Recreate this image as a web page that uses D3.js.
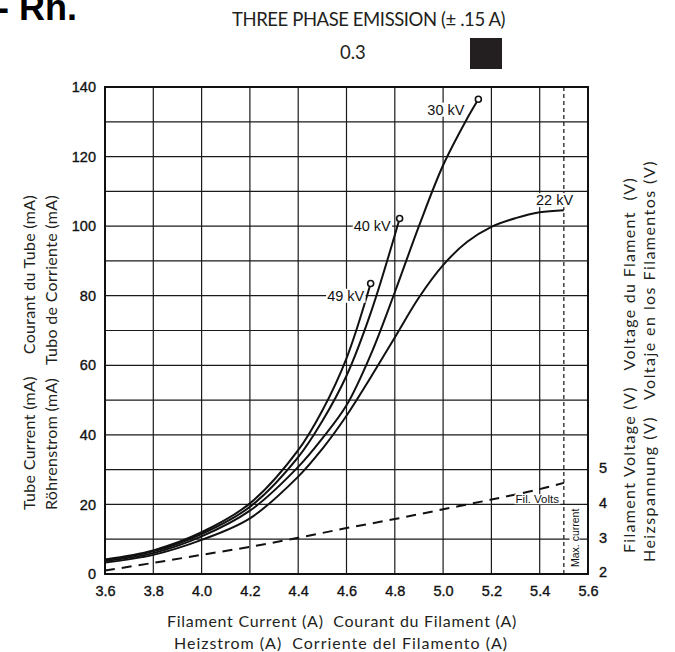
<!DOCTYPE html>
<html>
<head>
<meta charset="utf-8">
<script src="https://cdn.jsdelivr.net/npm/d3@7"></script>
<style>
  body { margin: 0; background: #fff; }
  svg { display: block; }
</style>
</head>
<body>
<div id="chart"></div>
<script>
// filament current (A) vs tube current (mA)
const kv49 = [[3.6,4.2],[3.8,6.8],[4.0,12.0],[4.2,20.3],[4.4,35.6],[4.5,47],[4.6,62],[4.7,83.5]];
const kv40 = [[3.6,4.0],[3.8,6.5],[4.0,11.5],[4.2,19.3],[4.4,33.6],[4.5,44],[4.6,57],[4.7,75],[4.82,102.2]];
const kv30 = [[3.6,3.7],[3.8,6.0],[4.0,10.8],[4.2,18.2],[4.4,30.8],[4.5,39],[4.6,48.5],[4.7,63],[4.8,81],[4.9,100],[5.0,117.5],[5.1,131],[5.146,136.5]];
const kv22 = [[3.6,3.3],[3.8,5.5],[4.0,9.8],[4.2,16.0],[4.4,28.0],[4.5,36],[4.6,45.5],[4.7,56.5],[4.8,68],[4.9,79.5],[5.0,88.8],[5.1,95.5],[5.2,99.8],[5.3,102.3],[5.4,104],[5.5,104.6]];
// filament voltage (V), right axis
const filVolts = [[3.6,2.1],[3.8,2.32],[4.0,2.55],[4.2,2.78],[4.4,3.04],[4.6,3.32],[4.8,3.58],[5.0,3.86],[5.2,4.14],[5.4,4.44],[5.5,4.62]];
const maxCurrent = 5.5;

const xTicks = [3.6,3.8,4.0,4.2,4.4,4.6,4.8,5.0,5.2,5.4,5.6];
const yTicks = [0,20,40,60,80,100,120,140];
const vTicks = [2,3,4,5];

const curves = [
  {name:"49 kV", data:kv49, marker:true,  lx:4.69, ly:80},
  {name:"40 kV", data:kv40, marker:true,  lx:4.80, ly:100},
  {name:"30 kV", data:kv30, marker:true,  lx:5.105, ly:133.5},
  {name:"22 kV", data:kv22, marker:false, lx:5.555, ly:107.5}
];

const W = 675, H = 652;
const svg = d3.select("#chart").append("svg").attr("width", W).attr("height", H);

const x = d3.scaleLinear().domain([3.6, 5.6]).range([105, 588]);
const y = d3.scaleLinear().domain([0, 140]).range([574, 87]);
const yV = d3.scaleLinear().domain([2, 16]).range([574, 87]);

const tickFont = "'Liberation Sans', Arial, sans-serif";
const labelFont = "Lato, 'Open Sans', sans-serif";

// stretch a text to a measured length with letter spacing
function fit(sel, len) {
  const n = sel.text().length;
  const L = sel.node().getComputedTextLength();
  sel.style("letter-spacing", ((len - L) / n) + "px");
  return sel;
}

// header
svg.append("text").attr("x", -3).attr("y", 20)
  .style("font-family", tickFont).style("font-weight", "bold").style("font-size", "36px")
  .text("- Rh.");
fit(svg.append("text").attr("x", 232).attr("y", 26)
  .style("font-family", labelFont).style("font-size", "18.5px").attr("fill", "#231f20")
  .text("THREE PHASE EMISSION (± .15 A)"), 273);
svg.append("text").attr("x", 340).attr("y", 59)
  .style("font-family", labelFont).style("font-size", "18.5px").attr("fill", "#231f20")
  .text("0.3");
svg.append("rect").attr("x", 470).attr("y", 38).attr("width", 32).attr("height", 31).attr("fill", "#231f20");

// grid
const grid = svg.append("g").attr("stroke", "#1a1a1a").attr("stroke-width", 1.2);
grid.selectAll("line.v").data(d3.range(3.6, 5.61, 0.2)).join("line")
  .attr("x1", d => x(d)).attr("x2", d => x(d)).attr("y1", y(0)).attr("y2", y(140));
grid.selectAll("line.h").data(d3.range(0, 141, 10)).join("line")
  .attr("y1", d => y(d)).attr("y2", d => y(d)).attr("x1", x(3.6)).attr("x2", x(5.6));
svg.append("rect").attr("x", x(3.6)).attr("y", y(140))
  .attr("width", x(5.6) - x(3.6)).attr("height", y(0) - y(140))
  .attr("fill", "none").attr("stroke", "#111").attr("stroke-width", 2);

// axes (labels only, grid acts as ticks)
const xAxis = svg.append("g").attr("transform", `translate(0,${y(0)})`)
  .call(d3.axisBottom(x).tickValues(xTicks).tickFormat(d3.format(".1f")).tickSize(0).tickPadding(12));
const yAxis = svg.append("g").attr("transform", `translate(${x(3.6)},0)`)
  .call(d3.axisLeft(y).tickValues(yTicks).tickSize(0).tickPadding(9));
const vAxis = svg.append("g").attr("transform", `translate(${x(5.6)},0)`)
  .call(d3.axisRight(yV).tickValues(vTicks).tickSize(0).tickPadding(11));
[xAxis, yAxis, vAxis].forEach(a => {
  a.select(".domain").remove();
  a.selectAll("text").style("font-family", tickFont).style("font-size", "14.5px")
    .attr("fill", "#111").attr("stroke", "#111").attr("stroke-width", 0.35);
});
vAxis.selectAll("text").attr("dy", "0.2em");

// max current line
svg.append("line").attr("x1", x(maxCurrent)).attr("x2", x(maxCurrent))
  .attr("y1", y(0)).attr("y2", y(140))
  .attr("stroke", "#111").attr("stroke-width", 1.2).attr("stroke-dasharray", "4,3");

// filament volts
svg.append("path").datum(filVolts)
  .attr("fill", "none").attr("stroke", "#111").attr("stroke-width", 2).attr("stroke-dasharray", "10,7")
  .attr("d", d3.line().x(d => x(d[0])).y(d => yV(d[1])).curve(d3.curveCatmullRom));

// emission curves
const line = d3.line().x(d => x(d[0])).y(d => y(d[1])).curve(d3.curveCatmullRom.alpha(0.5));
svg.append("g").selectAll("path").data(curves).join("path")
  .attr("fill", "none").attr("stroke", "#111").attr("stroke-width", 2)
  .attr("d", d => line(d.data));
svg.append("g").selectAll("circle").data(curves.filter(c => c.marker)).join("circle")
  .attr("cx", d => x(d.data[d.data.length - 1][0])).attr("cy", d => y(d.data[d.data.length - 1][1]))
  .attr("r", 3).attr("fill", "#fff").attr("stroke", "#111").attr("stroke-width", 1.6);

// white-backed labels
function tag(txt, px, py, anchor, size, rot) {
  const g = svg.append("g").attr("transform", `translate(${px},${py})` + (rot ? ` rotate(${rot})` : ""));
  const t = g.append("text").attr("text-anchor", anchor).attr("dy", "0.35em")
    .style("font-family", tickFont).style("font-size", size + "px").attr("fill", "#111").text(txt);
  const b = t.node().getBBox();
  g.insert("rect", "text").attr("x", b.x - 1).attr("y", b.y + 1).attr("width", b.width + 2).attr("height", b.height - 2).attr("fill", "#fff");
}
curves.forEach(c => tag(c.name, x(c.lx) - 4, y(c.ly), "end", 14.5));
tag("Fil. Volts", x(5.48), yV(4.15), "end", 11.5);
tag("Max. current", x(maxCurrent) + 11, y(2), "start", 10.5, -90);

// axis titles
function title(txt, px, py, rot, anchor, len) {
  const t = svg.append("text").attr("transform", `translate(${px},${py}) rotate(${rot})`)
    .attr("text-anchor", anchor).attr("xml:space", "preserve")
    .style("font-family", labelFont).style("font-size", "16px").attr("fill", "#231f20")
    .text(txt);
  fit(t, len);
}
title("Tube Current (mA)     Courant du Tube (mA)", 35, 510, -90, "start", 315);
title("Röhrenstrom (mA)   Tubo de Corriente (mA)", 57, 510, -90, "start", 315);
title("Filament Voltage (V)   Voltage du Flament  (V)", 635, 553, -90, "start", 376);
title("Heizspannung (V)   Voltaje en los Filamentos (V)", 655, 562, -90, "start", 402);
title("Filament Current (A)  Courant du Filament (A)", 342, 627, 0, "middle", 350);
title("Heizstrom (A)  Corriente del Filamento (A)", 341, 649, 0, "middle", 334);
</script>
</body>
</html>
